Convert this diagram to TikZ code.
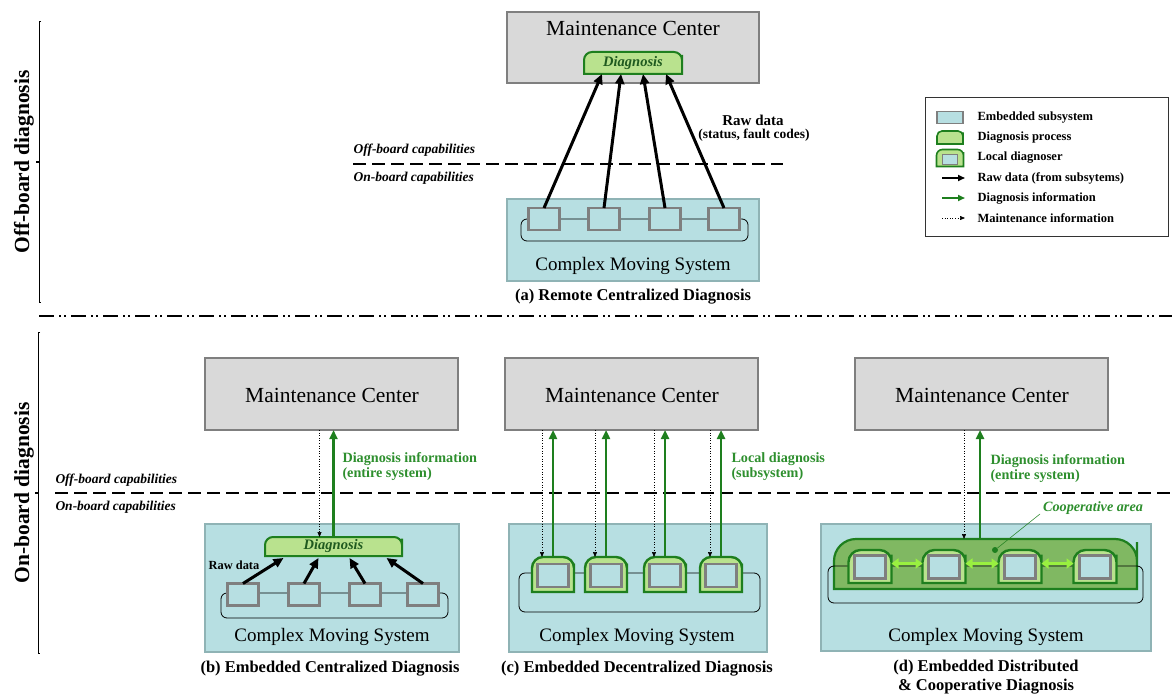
\documentclass[tikz,border=0pt]{standalone}
\usepackage{fontspec}
\setmainfont{Liberation Serif}
\usetikzlibrary{arrows.meta}
\definecolor{boxgray}{HTML}{D9D9D9}
\definecolor{boxgrayline}{HTML}{7F7F7F}
\definecolor{sysfill}{HTML}{B7DFE2}
\definecolor{sysline}{HTML}{8FB3B5}
\definecolor{ssline}{HTML}{7F7F7F}
\definecolor{lgreen}{HTML}{B9E28E}
\definecolor{dgreen}{HTML}{1E7F1E}
\definecolor{tgreen}{HTML}{2E8F2E}
\definecolor{diagtxt}{HTML}{1F5A1F}
\definecolor{coopfill}{HTML}{80B862}
\definecolor{limec}{HTML}{99F040}
\newcommand\fs[1]{\fontsize{#1}{#1}\selectfont}
\newcommand\roundtop[3]{\path[#3] (#1.south west) -- (#1.west) [rounded corners=#2] -- (#1.north west) -- (#1.north east) -- (#1.east) [sharp corners] -- (#1.south east) -- cycle;}
\tikzset{
  ph/.style={inner sep=0pt, outer sep=0pt, draw=none},
  mcbox/.style={draw=boxgrayline, fill=boxgray, line width=1.2pt, minimum width=253pt, minimum height=72pt, inner sep=0pt, outer sep=0pt},
  cmsbox/.style={draw=sysline, fill=sysfill, line width=2pt, inner sep=0pt, outer sep=0pt},
  subsys/.style={draw=ssline, fill=sysfill, line width=2.2pt, minimum width=31pt, minimum height=22pt, inner sep=0pt, outer sep=0pt},
  busbox/.style={draw=black, line width=0.8pt, rounded corners=6pt, inner sep=0pt, outer sep=0pt},
  diagshape/.style={draw=dgreen, fill=lgreen, line width=2pt},
  coopshape/.style={draw=dgreen, fill=coopfill, line width=2.2pt},
  rawarrow/.style={-{Triangle[length=10pt,width=9pt]}, line width=3pt, black},
  greenarrow/.style={-{Triangle[length=9pt,width=8pt]}, line width=2.5pt, dgreen},
  maintarrow/.style={-{Triangle[length=5pt,width=4pt]}, dotted, line width=0.6pt, black},
  limearrow/.style={{Triangle[length=7pt,width=10pt]}-{Triangle[length=7pt,width=10pt]}, line width=3.2pt, limec},
  txt/.style={inner sep=0.5pt, outer sep=0pt},
  mctext/.style={txt, font=\fs{21.5}},
  cmstext/.style={txt, font=\fs{19}},
  captext/.style={txt, font=\bfseries\fontsize{16.5}{19}\selectfont, align=center},
  captxt/.style={txt, font=\bfseries\itshape\fs{13.5}, anchor=west},
  diagtext/.style={txt, font=\bfseries\itshape\fs{14.5}, text=diagtxt},
  greentext/.style={txt, font=\bfseries\fontsize{14.2}{15}\selectfont, text=tgreen, align=left, anchor=west},
  legtext/.style={txt, font=\bfseries\fs{12.5}, anchor=west},
  sepdash/.style={line width=1.5pt, dash pattern=on 13pt off 6pt},
  dashdotline/.style={line width=1.5pt, dash pattern=on 15pt off 5pt on 2pt off 3pt on 2pt off 5pt},
  bracketline/.style={line width=0.9pt},
}
\begin{document}
\begin{tikzpicture}[x=1pt,y=-1pt]
\useasboundingbox (0,0) rectangle (1172,698);

% ---------- left brackets and labels ----------
\coordinate (brA1) at (39,21);
\coordinate (brA2) at (39,302);
\coordinate (brAt) at (39,162);
\coordinate (brAt2) at (35.5,162);
\draw[bracketline] ([xshift=2pt]brA1) -- (brA1) -- (brA2) -- ([xshift=2pt]brA2);
\draw[line width=1.5pt] (brAt) -- (brAt2);
\node[txt, font=\bfseries\fs{21.5}, rotate=90] (lblOff) at (24,162) {Off-board diagnosis};

\coordinate (brB1) at (38,332);
\coordinate (brB2) at (38,653);
\coordinate (brBt) at (38,493);
\coordinate (brBt2) at (34.5,493);
\draw[bracketline] ([xshift=2pt]brB1) -- (brB1) -- (brB2) -- ([xshift=2pt]brB2);
\draw[line width=1.5pt] (brBt) -- (brBt2);
\node[txt, font=\bfseries\fs{21.5}, rotate=90] (lblOn) at (24,493) {On-board diagnosis};

\coordinate (ddA) at (39,316);
\coordinate (ddB) at (1172,316);
\draw[dashdotline] (ddA) -- (ddB);

% ---------- (a) ----------
\node[mcbox, minimum width=252pt, minimum height=71pt] (mcA) at (633,47.5) {};
\node[mctext] (mcAt) at (633,28) {Maintenance Center};
\node[ph, minimum width=98pt, minimum height=22pt] (dgA) at (633,63) {};
\roundtop{dgA}{8pt}{diagshape}
\node[diagtext] (dgAt) at (dgA) {Diagnosis};

\node[cmsbox, minimum width=252pt, minimum height=82pt] (cmsA) at (633,240) {};
\node[busbox, minimum width=227pt, minimum height=22pt] (busA) at (634.5,230) {};
\node[subsys] (ssA1) at (544,219) {};
\node[subsys] (ssA2) at (604,219) {};
\node[subsys] (ssA3) at (665,219) {};
\node[subsys] (ssA4) at (724,219) {};
\node[cmstext] (cmsAt) at (633,266) {Complex Moving System};
\node[captext] (capA) at (633,297) {(a) Remote Centralized Diagnosis};

\draw[rawarrow] (ssA1.north) -- ([xshift=-31pt]dgA.south);
\draw[rawarrow] (ssA2.north) -- ([xshift=-12pt]dgA.south);
\draw[rawarrow] (ssA3.north) -- ([xshift=10pt]dgA.south);
\draw[rawarrow] (ssA4.north) -- ([xshift=33pt]dgA.south);

\node[txt, font=\bfseries\fs{15}] (rawA) at (753,120) {Raw data};
\node[txt, font=\bfseries\fs{13.5}] (rawAs) at (754,135) {(status, fault codes)};

\node[captxt] (offA) at (353,150) {Off-board capabilities};
\node[captxt] (onA) at (353,178) {On-board capabilities};
\coordinate (sdA1) at (353,164);
\coordinate (sdA2) at (783,164);
\draw[sepdash] (sdA1) -- (sdA2);

% ---------- legend ----------
\node[draw=black!80, line width=0.8pt, minimum width=243pt, minimum height=139pt, inner sep=0pt] (leg) at (1046.5,166.5) {};
\node[subsys, minimum width=26pt, minimum height=12pt, line width=1.6pt] (lg1) at (950,117.5) {};
\node[ph, minimum width=26pt, minimum height=13pt] (lg2) at (950,137.5) {};
\roundtop{lg2}{5pt}{diagshape, line width=1.6pt}
\node[ph, minimum width=27pt, minimum height=17pt] (lg3) at (950,158) {};
\roundtop{lg3}{6pt}{diagshape, line width=1.6pt}
\node[subsys, minimum width=15pt, minimum height=10pt, line width=1.5pt] (lg3i) at (950,159.5) {};
\coordinate (lg4a) at (942,178); \coordinate (lg4b) at (965,178);
\draw[-{Triangle[length=7pt,width=6pt]}, line width=2pt, black] (lg4a) -- (lg4b);
\coordinate (lg5a) at (942,198); \coordinate (lg5b) at (965,198);
\draw[-{Triangle[length=7pt,width=6pt]}, line width=2pt, dgreen] (lg5a) -- (lg5b);
\coordinate (lg6a) at (942,218); \coordinate (lg6b) at (965,218);
\draw[maintarrow] (lg6a) -- (lg6b);
\node[legtext] (lt1) at (977,118) {Embedded subsystem};
\node[legtext] (lt2) at (977,138) {Diagnosis process};
\node[legtext] (lt3) at (977,158) {Local diagnoser};
\node[legtext] (lt4) at (977,178) {Raw data (from subsytems)};
\node[legtext] (lt5) at (977,198) {Diagnosis information};
\node[legtext] (lt6) at (977,218) {Maintenance information};

% ---------- bottom separator ----------
\node[captxt] (offB) at (55,480) {Off-board capabilities};
\node[captxt] (onB) at (55,507) {On-board capabilities};
\coordinate (sdB1) at (55,493);
\coordinate (sdB2) at (1172,493);
\draw[sepdash] (sdB1) -- (sdB2);

% ---------- (b) ----------
\node[mcbox] (mcB) at (331.5,394) {};
\node[mctext] (mcBt) at (332,395) {Maintenance Center};
\node[cmsbox, minimum width=254pt, minimum height=128pt] (cmsB) at (332,588) {};
\node[busbox, minimum width=227pt, minimum height=25pt] (busB) at (334.5,605.5) {};
\node[subsys] (ssB1) at (243,594.5) {};
\node[subsys] (ssB2) at (304,594.5) {};
\node[subsys] (ssB3) at (365,594.5) {};
\node[subsys] (ssB4) at (423,594.5) {};
\node[ph, minimum width=137pt, minimum height=19pt] (dgB) at (333.5,546.5) {};
\roundtop{dgB}{8pt}{diagshape}
\node[diagtext] (dgBt) at (dgB) {Diagnosis};
\draw[rawarrow] (ssB1.north) -- ([xshift=-50pt,yshift=-2pt]dgB.south);
\draw[rawarrow] (ssB2.north) -- ([xshift=-15pt,yshift=-2pt]dgB.south);
\draw[rawarrow] (ssB3.north) -- ([xshift=16pt,yshift=-2pt]dgB.south);
\draw[rawarrow] (ssB4.north) -- ([xshift=53pt,yshift=-2pt]dgB.south);
\draw[greenarrow] (dgB.north) -- (dgB.north |- mcB.south);
\path (dgB.north) ++(-14,0) coordinate (dgBm);
\draw[maintarrow] (dgBm |- mcB.south) -- (dgBm);
\node[txt, font=\bfseries\fs{12.4}] (rawB) at (234,565) {Raw data};
\node[greentext] (diB) at (342,466.5) {Diagnosis information\\(entire system)};
\node[cmstext] (cmsBt) at (332,637) {Complex Moving System};
\node[captext] (capB) at (330,669) {(b) Embedded Centralized Diagnosis};

% ---------- (c) ----------
\node[mcbox] (mcC) at (631.5,394) {};
\node[mctext] (mcCt) at (632,395) {Maintenance Center};
\node[cmsbox, minimum width=258pt, minimum height=128pt] (cmsC) at (638,588) {};
\node[busbox, minimum width=241pt, minimum height=39pt] (busC) at (639.5,592.5) {};
\foreach \i/\x in {1/553,2/606,3/665,4/721}{
  \node[ph, minimum width=42pt, minimum height=35pt] (ldC\i) at (\x,574.5) {};
  \roundtop{ldC\i}{11pt}{diagshape, line width=2.4pt}
  \node[subsys, minimum width=31pt, minimum height=23pt] (ldCi\i) at (\x,575.5) {};
  \draw[greenarrow] (ldC\i.north) -- (ldC\i.north |- mcC.south);
  \path (ldC\i.north) ++(-11,0) coordinate (ldCm\i);
  \draw[maintarrow] (ldCm\i |- mcC.south) -- (ldCm\i);
}
\node[greentext] (diC) at (731,466.5) {Local diagnosis\\(subsystem)};
\node[cmstext] (cmsCt) at (637,637) {Complex Moving System};
\node[captext] (capC) at (637,669) {(c) Embedded Decentralized Diagnosis};

% ---------- (d) ----------
\node[mcbox] (mcD) at (981.5,394) {};
\node[mctext] (mcDt) at (982,395) {Maintenance Center};
\node[cmsbox, minimum width=330pt, minimum height=127pt] (cmsD) at (986,587.5) {};
\node[ph, minimum width=303pt, minimum height=50pt] (coD) at (985.5,564) {};
\roundtop{coD}{22pt}{coopshape}
\node[busbox, minimum width=315pt, minimum height=37pt] (busD) at (985.5,584.5) {};
\foreach \i/\x in {1/870,2/944,3/1020,4/1095}{
  \node[ph, minimum width=43pt, minimum height=33pt] (ldD\i) at (\x,566.5) {};
  \roundtop{ldD\i}{12pt}{diagshape, line width=2.4pt}
  \node[subsys, minimum width=31pt, minimum height=23pt] (ldDi\i) at (\x,567) {};
}
\draw[limearrow] ([yshift=3pt]ldD1.east) -- ([yshift=3pt]ldD2.west);
\draw[limearrow] ([yshift=3pt]ldD2.east) -- ([yshift=3pt]ldD3.west);
\draw[limearrow] ([yshift=3pt]ldD3.east) -- ([yshift=3pt]ldD4.west);
\path (coD.north) ++(-5.5,0) coordinate (coDg);
\draw[greenarrow] (coDg) -- (coDg |- mcD.south);
\path (coD.north) ++(-21.5,0) coordinate (coDm);
\draw[maintarrow] (coDm |- mcD.south) -- (coDm);
\node[circle, fill=dgreen, minimum size=6pt, inner sep=0pt] (dotD) at (995,550) {};
\coordinate (leadD) at (1040,514);
\draw[dgreen, line width=0.5pt] (dotD) -- (leadD);
\node[txt, font=\bfseries\itshape\fs{14.2}, text=tgreen] (coopt) at (1093,508) {Cooperative area};
\node[greentext] (diD) at (990,468.5) {Diagnosis information\\(entire system)};
\node[cmstext] (cmsDt) at (986,637) {Complex Moving System};
\node[captext] (capD) at (986,677.5) {(d) Embedded Distributed\\\& Cooperative Diagnosis};
\end{tikzpicture}
\end{document}
